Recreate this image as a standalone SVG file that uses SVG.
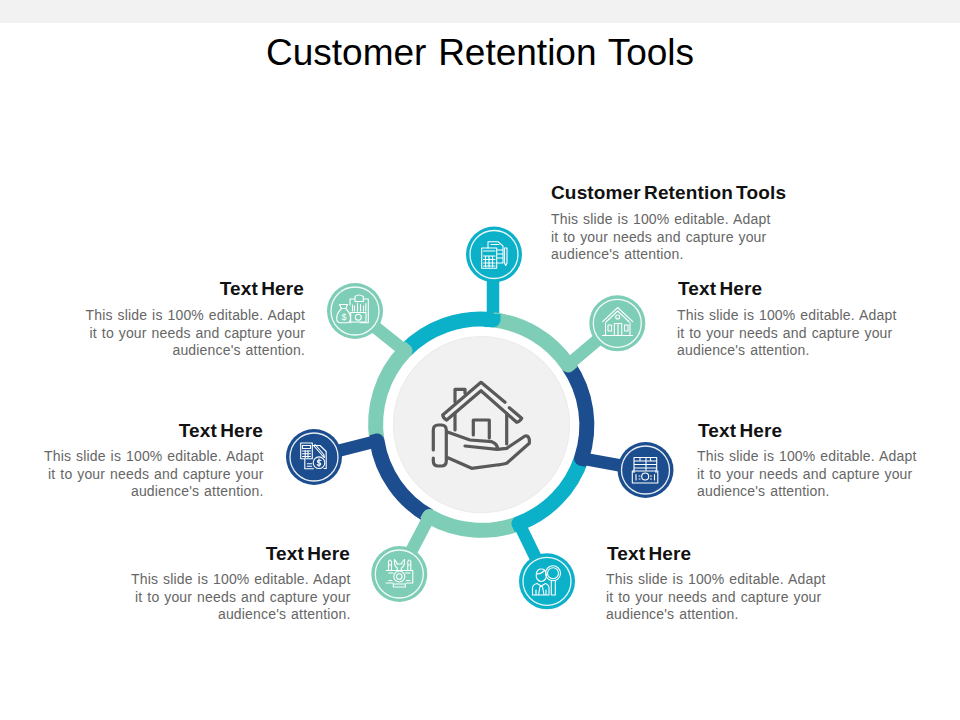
<svg xmlns="http://www.w3.org/2000/svg" width="960" height="720" viewBox="0 0 960 720">
<style>
text{font-family:"Liberation Sans",Arial,sans-serif}
.title{font-size:37px;fill:#000;text-anchor:middle;word-spacing:1.500px}
.h{font-size:19px;font-weight:bold;fill:#111;word-spacing:-2.300px;letter-spacing:.15px}
.b{font-size:14px;fill:#666;word-spacing:.8px;letter-spacing:.18px}
.e{text-anchor:end}
.seg{fill:none;stroke-width:15;stroke-linejoin:round}
.lk{fill:none;stroke-width:12.500}
.c{stroke:#0BB0C9}.m{stroke:#7ECDB6}.n{stroke:#1C4E8F}
.cf{fill:#0BB0C9}.mf{fill:#7ECDB6}.nf{fill:#1C4E8F}
.ring{fill:none;stroke:#fff;stroke-width:1.300;opacity:.9}
.ic{fill:none;stroke:#fff;stroke-width:1.100;stroke-linejoin:round;stroke-linecap:round}
.big{fill:none;stroke:#595959;stroke-width:3.200;stroke-linejoin:round;stroke-linecap:round}
</style>
<rect width="960" height="23" fill="#f2f2f2"/>
<text class="title" x="480" y="65">Customer Retention Tools</text>

<g id="connectors">
<path class="lk c" d="M493 320V270"/>
<path class="seg c" d="M405 351A105.500 105.500 0 0 1 493 319.800V314"/>
<path class="lk m" d="M405 351L355 311"/>
<path class="seg m" d="M377 441A105.500 105.500 0 0 1 405 351L400.500 347.300"/>
<path class="lk n" d="M377 441L314 457"/>
<path class="seg n" d="M429.500 516.400A105.500 105.500 0 0 1 377 441L371.500 442.400"/>
<path class="lk m" d="M429.500 516.400L399.300 574"/>
<path class="seg m" d="M519 523.500A105.500 105.500 0 0 1 429.500 516.400L426.800 521.500"/>
<path class="lk c" d="M519 523.500L547 581"/>
<path class="seg c" d="M581.500 458.300A105.500 105.500 0 0 1 519 523.500L521.600 528.800"/>
<path class="lk n" d="M581.500 458.300L645 470"/>
<path class="seg n" d="M568 365A105.500 105.500 0 0 1 581.500 458.300L587.300 459.400"/>
<path class="lk m" d="M568 365L617.300 323.300"/>
<path class="seg m" d="M493 319.800A105.500 105.500 0 0 1 568 365L572.500 361.200"/>
<path class="seg c" d="M484 319.500A105.500 105.500 0 0 1 493 319.800V314"/>
</g>

<g id="hub">
<circle cx="481.500" cy="424.700" r="88" fill="#f1f1f1" stroke="#ececec" stroke-width="1.200"/>
<path class="big" d="M505 402.300L481 382.300L442.700 415Q443 418 446.700 420L481 390.700L516.700 422.300Q520 421.500 521.700 418.300L509.300 407.700"/>
<path class="big" d="M455 401.700V389.300H465V393.300M455 413V430M506.700 413.300V444M473.300 435V420H489.300V438"/>
<path class="big" d="M433.300 450V430q0-5 5-5h3q5 0 5 5V461q0 5-5 5h-3q-5 0-5-5V458"/>
<path class="big" d="M446.700 431.700L470 440L491.700 441.700Q498 444 497.300 449.300L465 446M497.300 449.300L506.700 448.300L525 436Q530 435 529.300 443.300L506.700 463.300Q500 465 496.700 465L471.700 468.300L446.700 457.300"/>
</g>

<g id="node-top">
<circle class="cf" cx="494" cy="254.500" r="28"/><circle class="ring" cx="494" cy="254.500" r="24"/>
<path class="ic" d="M488 248V241.700H498L503 246V263H497M491 244.500H499M497 250H503M497 254H503M497 258H503"/>
<rect class="ic" x="481.700" y="248" width="15" height="20.300"/>
<path class="ic" d="M483.500 251H495M483.500 256H495M483.500 259.500H495M483.500 263H495M483.500 266H495M485.500 256V267M489 256V267M492.500 256V267"/>
<path class="ic" d="M504.500 248H507V263L505.700 265.500L504.500 263Z"/>
</g>
<g id="node-ne">
<circle class="mf" cx="617.300" cy="323.300" r="28"/><circle class="ring" cx="617.300" cy="323.300" r="24"/>
<path class="ic" d="M602.700 321.700L617.700 307.500L632.700 321.700M606 322L617.700 311L629.300 322M605.500 323V335M630 323V335M602.500 335.500H632.500M614.300 335V323.500H621.700V335M618 323.500V335"/>
<circle class="ic" cx="617.700" cy="317" r="2"/>
<rect class="ic" x="608" y="325" width="3.500" height="6"/><rect class="ic" x="624.500" y="325" width="3.500" height="6"/>
</g>
<g id="node-e">
<circle class="nf" cx="645.500" cy="470" r="28"/><circle class="ring" cx="645.500" cy="470" r="24"/>
<path class="ic" d="M634 470V457.500H656.700V470M634 461H656.700M634 464.500H656.700M634 468H656.700M640 457.500V461M646 457.500V470M650.500 457.500V461"/>
<rect class="ic" x="632.300" y="471" width="25.500" height="12"/>
<circle class="ic" cx="645.200" cy="476.500" r="3.500"/>
<path class="ic" d="M636 474.500V480M654.500 474.500V480M639 476H640M639 479H640M650.500 476H651.500M650.500 479H651.500M634 472.500V470M656 472.500V470"/>
</g>
<g id="node-se">
<circle class="cf" cx="547" cy="581.300" r="28"/><circle class="ring" cx="547" cy="581.300" r="24"/>
<circle class="ic" cx="553" cy="573.300" r="7.500"/><circle class="ic" cx="553" cy="573.300" r="5.500"/>
<path class="ic" d="M551.300 581V595H555.300V581"/>
<path class="ic" d="M536.300 574Q537 569 541.300 569Q545.500 569 546.300 574V577Q545 581 541.300 581.500Q537.500 581 536.300 577ZM536.300 574Q541 574 544 571M532.500 595V587.500Q533 584.500 537 583.500L541.300 586L545.500 583.500Q548.500 584.500 549 587.500V595ZM538.500 595L540 586.500H542.500L544 595M536 590V595M546 590V595"/>
</g>
<g id="node-sw">
<circle class="mf" cx="399.300" cy="574" r="28"/><circle class="ring" cx="399.300" cy="574" r="24"/>
<path class="ic" d="M394.500 559.500V563Q395 567 397.300 568V570.500M404.500 559.500V563Q404 567 401.300 568V570.500M394.500 559.500L396.800 562.500V564H401.800V562.500L404.500 559.500"/>
<path class="ic" d="M388.500 570V561.500Q390 558.500 391.500 561.500V570M407.800 570V561.500Q409.300 558.500 410.800 561.500V570M388.800 565H391.300M408 565H410.500"/>
<path class="ic" d="M386.200 570.500H412.800V583H406M393 583H386.200ZM388.800 573H393M410 573H405.500M388.800 580.500H392M410 580.500H406.500M393.300 587V584H405.300V587ZM393.300 587H405.300"/>
<circle class="ic" cx="399.300" cy="576.500" r="5.500"/><circle class="ic" cx="399.300" cy="576.500" r="2.800"/>
</g>
<g id="node-w">
<circle class="nf" cx="314" cy="457" r="28"/><circle class="ring" cx="314" cy="457" r="24"/>
<rect class="ic" x="300.700" y="443" width="11.600" height="15.700"/>
<path class="ic" d="M302.500 445.500H310.500V448.500H302.500ZM302.500 451H310.500M302.500 453.800H310.500M302.500 456.500H310.500M305.200 450.500V457.500M308 450.500V457.500"/>
<path class="ic" d="M312.500 445.500H320L326.200 451.500V468.500H324M304.800 459V468.700H313.500M313.500 445.500L322.300 455.500L324.500 457.500L323.800 454.500L315 444.500"/>
<path class="ic" d="M307.300 463.700H311.700M307.300 466.300H311.700"/>
<circle class="ic" cx="319" cy="462.700" r="5.800"/>
<path class="ic" d="M321 460.500Q319 459.500 317.800 460.700Q317 462.500 319 462.700Q321.300 463 320.500 464.800Q318.800 466 317.200 464.700M319 458.800V466.500"/>
</g>
<g id="node-nw">
<circle class="mf" cx="355" cy="311" r="28"/><circle class="ring" cx="355" cy="311" r="24"/>
<path class="ic" d="M350 305V299H355V296.500Q359 293.500 363.300 296.500V299H368.300V322.700H360M350 322.700H351M355 299V301.500H363.300V299M352.500 305V311M365.800 303.500V311M354.500 306V311M357.500 303.500V311M360.500 304.500V311M363.500 306V311"/>
<path class="ic" d="M339.500 304.500H347.500L345.700 308.500Q350.500 313 350.500 318.500Q350.500 322.700 347 322.700H340.500Q336.700 322.700 336.700 318.500Q336.700 313 341.500 308.500ZM341.500 308.500H345.700"/>
<rect class="ic" x="350.700" y="312.500" width="15.300" height="9.500"/><circle class="ic" cx="358.300" cy="317.200" r="3"/>
<text x="341.500" y="320" font-size="9" fill="#fff">$</text>
</g>

<g id="label-top">
<text class="h" x="551" y="199">Customer Retention Tools</text>
<text class="b" x="551" y="224">This slide is 100% editable. Adapt</text>
<text class="b" x="551" y="242">it to your needs and capture your</text>
<text class="b" x="551" y="259">audience's attention.</text>
</g>
<g id="label-ne">
<text class="h" x="678" y="295">Text Here</text>
<text class="b" x="677" y="320">This slide is 100% editable. Adapt</text>
<text class="b" x="677" y="338">it to your needs and capture your</text>
<text class="b" x="677" y="355">audience's attention.</text>
</g>
<g id="label-e">
<text class="h" x="698" y="437">Text Here</text>
<text class="b" x="697" y="461">This slide is 100% editable. Adapt</text>
<text class="b" x="697" y="479">it to your needs and capture your</text>
<text class="b" x="697" y="496">audience's attention.</text>
</g>
<g id="label-se">
<text class="h" x="607" y="560">Text Here</text>
<text class="b" x="606" y="584">This slide is 100% editable. Adapt</text>
<text class="b" x="606" y="602">it to your needs and capture your</text>
<text class="b" x="606" y="619">audience's attention.</text>
</g>
<g id="label-nw">
<text class="h e" x="304" y="295">Text Here</text>
<text class="b e" x="305" y="320">This slide is 100% editable. Adapt</text>
<text class="b e" x="305" y="338">it to your needs and capture your</text>
<text class="b e" x="305" y="355">audience's attention.</text>
</g>
<g id="label-w">
<text class="h e" x="263" y="437">Text Here</text>
<text class="b e" x="263.500" y="461">This slide is 100% editable. Adapt</text>
<text class="b e" x="263.500" y="479">it to your needs and capture your</text>
<text class="b e" x="263.500" y="496">audience's attention.</text>
</g>
<g id="label-sw">
<text class="h e" x="350" y="560">Text Here</text>
<text class="b e" x="350.500" y="584">This slide is 100% editable. Adapt</text>
<text class="b e" x="350.500" y="602">it to your needs and capture your</text>
<text class="b e" x="350.500" y="619">audience's attention.</text>
</g>
</svg>
